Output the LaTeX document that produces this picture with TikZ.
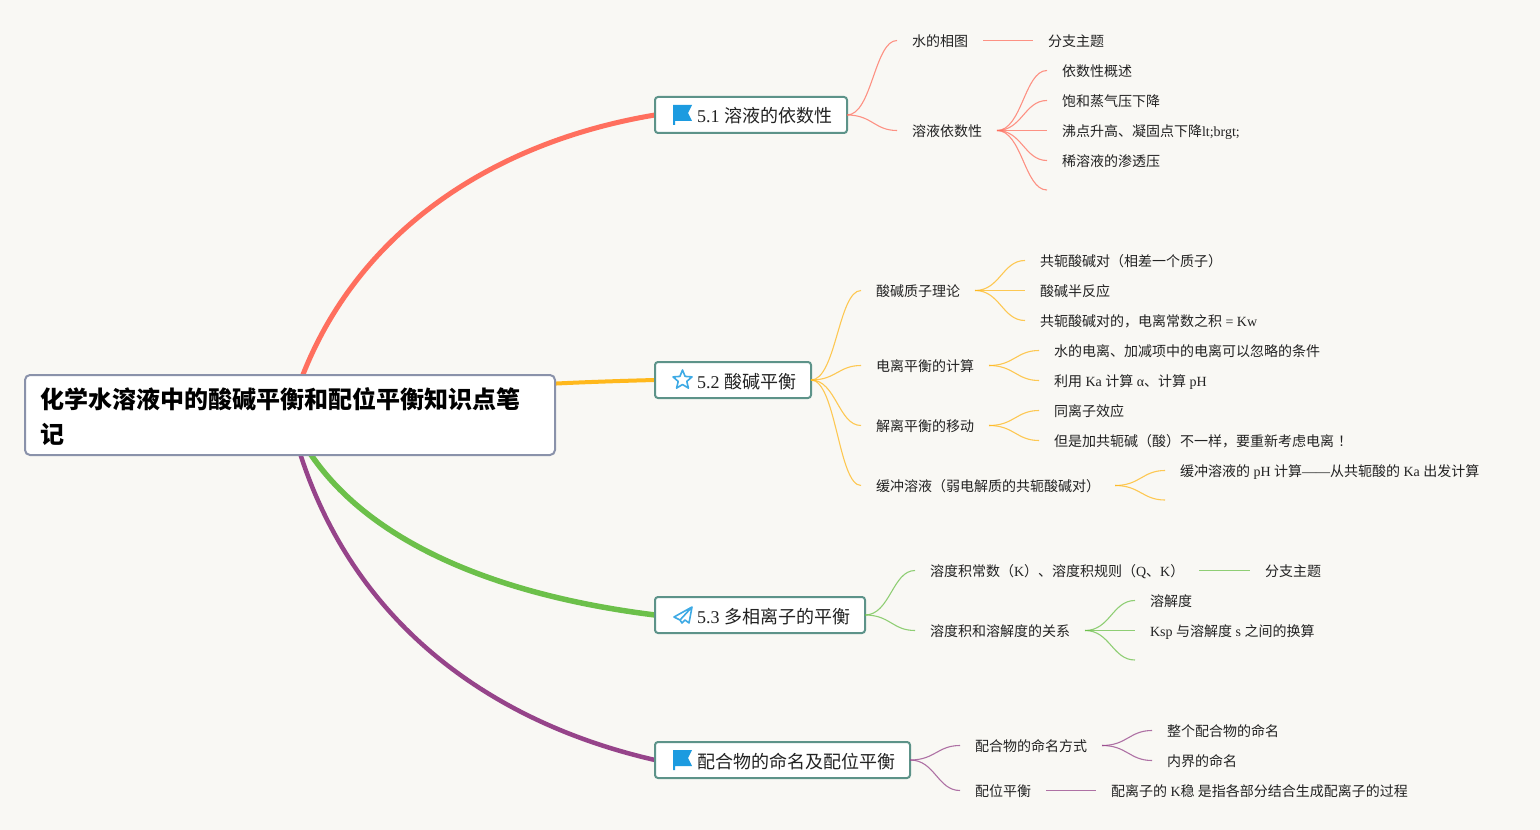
\documentclass[tikz,border=0pt]{standalone}
\usepackage{fontspec}
\usetikzlibrary{calc}
\setmainfont{Liberation Serif}
\newfontfamily\cjk{Noto Sans CJK SC}
\newcommand{\Z}[1]{{\cjk #1}}
\newdimen\pxu \pxu=0.75pt
\definecolor{bgc}{HTML}{F9F8F4}
\definecolor{rootline}{HTML}{8A92AA}
\definecolor{topicline}{HTML}{5D9389}
\definecolor{cred}{HTML}{FF6F5E}
\definecolor{cyel}{HTML}{FFB81C}
\definecolor{cgrn}{HTML}{6CC04A}
\definecolor{cpur}{HTML}{96448A}
\definecolor{iconblue}{HTML}{1C9BE0}
\definecolor{txt}{HTML}{222222}
\tikzset{
  x=0.75pt,y=-0.75pt,
  rootbox/.style={draw=rootline,fill=white,line width=2\pxu,rounded corners=5\pxu,anchor=west,outer sep=0pt,
    minimum height=80\pxu,inner xsep=15\pxu,inner ysep=0pt,text width=500\pxu,align=left,text=black,
    font=\fontsize{18}{26.25}\selectfont\bfseries},
  topicbox/.style={draw=topicline,fill=white,line width=2\pxu,rounded corners=3\pxu,anchor=west,outer sep=0pt,
    minimum height=36\pxu,inner xsep=0pt,inner ysep=0pt,text=txt,text height=16\pxu,text depth=0pt,
    font=\fontsize{13.5}{16}\selectfont},
  leaf/.style={anchor=west,outer sep=0pt,inner xsep=15\pxu,inner ysep=0pt,text=txt,text height=12.5\pxu,text depth=0pt,
    yshift=-0.375pt,font=\fontsize{10.5}{13}\selectfont},
  mainc/.style={line width=5\pxu},
  thin link/.style={line width=1.1\pxu,opacity=.75},
  flagicon/.pic={\fill[iconblue] (18,-10)--(37,-10)--(33,-2)--(37,6)--(20,6)--(20,10)--(18,10)--cycle;},
  staricon/.pic={\draw[iconblue!85,line width=1.6\pxu,line join=round]
    (27.5,-10)--(30.1,-3.6)--(37,-3.1)--(31.8,1.4)--(33.4,8.1)--(27.5,4.5)--(21.6,8.1)--(23.2,1.4)--(18,-3.1)--(24.9,-3.6)--cycle;},
  planeicon/.pic={\draw[iconblue!85,line width=1.6\pxu,line join=round]
    (37,-8)--(19,2)--(25,5)--(27,8)--(30,5)--(34,8)--cycle (37,-8)--(25,5);},
}
\newcommand{\lnk}[3]{\draw[thin link,#1] let \p1=(#2),\p2=(#3) in (\p1) .. controls ({0.5*\x1+0.5*\x2},\y1) and ({0.45*\x1+0.55*\x2},\y2) .. (\p2);}
\newcommand{\tp}[1]{\hspace*{42\pxu}#1\kern15\pxu}
\begin{document}
\begin{tikzpicture}
\useasboundingbox (0,0) rectangle (1540,830);
\fill[bgc] (0,0) rectangle (1540,830);
\coordinate (rc) at (289.5,415);
\coordinate (t1w) at (655,115);
\coordinate (t2w) at (655,380);
\coordinate (t3w) at (655,615);
\coordinate (t4w) at (655,760);
\draw[mainc,cred] (rc) .. controls (335,250) and (475,145) .. (t1w);
\draw[mainc,cyel,line width=4\pxu] (rc) .. controls (400,392) and (500,384) .. (t2w);
\draw[mainc,cgrn,line width=5.5\pxu] (rc) .. controls (335,525) and (470,592) .. (t3w);
\draw[mainc,cpur,line width=4.5\pxu] (rc) .. controls (335,610) and (480,720) .. (t4w);
\node[rootbox] (root) at (25,415) {\rule{0pt}{17.5pt}\Z{化学水溶液中的酸碱平衡和配位平衡知识点笔}\\\Z{记}};
\node[topicbox] (t1) at (655,115) {\tp{5.1 \Z{溶液的依数性}}};
\node[topicbox] (t2) at (655,380) {\tp{5.2 \Z{酸碱平衡}}};
\node[topicbox] (t3) at (655,615) {\tp{5.3 \Z{多相离子的平衡}}};
\node[topicbox] (t4) at (655,760) {\tp{\Z{配合物的命名及配位平衡}}};
\pic at (t1.west) {flagicon};
\pic at (t2.west) {staricon};
\pic at (t3.west) {planeicon};
\pic at (t4.west) {flagicon};
% 5.1
\node[leaf] (a1) at (897,40) {\Z{水的相图}};
\node[leaf] (a2) at (897,130) {\Z{溶液依数性}};
\node[leaf] (a1a) at (1033,40) {\Z{分支主题}};
\node[leaf] (a2a) at (1047,70) {\Z{依数性概述}};
\node[leaf] (a2b) at (1047,100) {\Z{饱和蒸气压下降}};
\node[leaf] (a2c) at (1047,130) {\Z{沸点升高、凝固点下降}lt;brgt;};
\node[leaf] (a2d) at (1047,160) {\Z{稀溶液的渗透压}};
\coordinate (a2e) at (1047,190);
\lnk{cred}{t1.east}{a1.west}
\lnk{cred}{t1.east}{a2.west}
\lnk{cred}{a1.east}{a1a.west}
\foreach \k in {a2a.west,a2b.west,a2c.west,a2d.west,a2e}{\lnk{cred}{a2.east}{\k}}
% 5.2
\node[leaf] (b1) at (861,290) {\Z{酸碱质子理论}};
\node[leaf] (b2) at (861,365) {\Z{电离平衡的计算}};
\node[leaf] (b3) at (861,425) {\Z{解离平衡的移动}};
\node[leaf] (b4) at (861,485) {\Z{缓冲溶液（弱电解质的共轭酸碱对）}};
\node[leaf] (b1a) at (1025,260) {\Z{共轭酸碱对（相差一个质子）}};
\node[leaf] (b1b) at (1025,290) {\Z{酸碱半反应}};
\node[leaf] (b1c) at (1025,320) {\Z{共轭酸碱对的，电离常数之积} = Kw};
\node[leaf] (b2a) at (1039,350) {\Z{水的电离、加减项中的电离可以忽略的条件}};
\node[leaf] (b2b) at (1039,380) {\Z{利用} Ka \Z{计算} α\Z{、计算} pH};
\node[leaf] (b3a) at (1039,410) {\Z{同离子效应}};
\node[leaf] (b3b) at (1039,440) {\Z{但是加共轭碱（酸）不一样，要重新考虑电离\kern4\pxu ！}};
\node[leaf] (b4a) at (1165,470) {\Z{缓冲溶液的} pH \Z{计算}——\Z{从共轭酸的} Ka \Z{出发计算}};
\coordinate (b4b) at (1165,500);
\foreach \k in {b1,b2,b3,b4}{\lnk{cyel}{t2.east}{\k.west}}
\foreach \k in {b1a,b1b,b1c}{\lnk{cyel}{b1.east}{\k.west}}
\foreach \k in {b2a,b2b}{\lnk{cyel}{b2.east}{\k.west}}
\foreach \k in {b3a,b3b}{\lnk{cyel}{b3.east}{\k.west}}
\lnk{cyel}{b4.east}{b4a.west}
\lnk{cyel}{b4.east}{b4b}
% 5.3
\node[leaf] (c1) at (915,570) {\Z{溶度积常数（}K\Z{）、溶度积规则（}Q\Z{、}K\Z{）}};
\node[leaf] (c2) at (915,630) {\Z{溶度积和溶解度的关系}};
\node[leaf] (c1a) at (1250,570) {\Z{分支主题}};
\node[leaf] (c2a) at (1135,600) {\Z{溶解度}};
\node[leaf] (c2b) at (1135,630) {Ksp \Z{与溶解度} s \Z{之间的换算}};
\coordinate (c2c) at (1135,660);
\lnk{cgrn}{t3.east}{c1.west}
\lnk{cgrn}{t3.east}{c2.west}
\lnk{cgrn}{c1.east}{c1a.west}
\lnk{cgrn}{c2.east}{c2a.west}
\lnk{cgrn}{c2.east}{c2b.west}
\lnk{cgrn}{c2.east}{c2c}
% 5.4
\node[leaf] (d1) at (960,745) {\Z{配合物的命名方式}};
\node[leaf] (d2) at (960,790) {\Z{配位平衡}};
\node[leaf] (d1a) at (1152,730) {\Z{整个配合物的命名}};
\node[leaf] (d1b) at (1152,760) {\Z{内界的命名}};
\node[leaf] (d2a) at (1096,790) {\Z{配离子的} K\Z{稳 是指各部分结合生成配离子的过程}};
\lnk{cpur}{t4.east}{d1.west}
\lnk{cpur}{t4.east}{d2.west}
\lnk{cpur}{d1.east}{d1a.west}
\lnk{cpur}{d1.east}{d1b.west}
\lnk{cpur}{d2.east}{d2a.west}
\end{tikzpicture}
\end{document}
